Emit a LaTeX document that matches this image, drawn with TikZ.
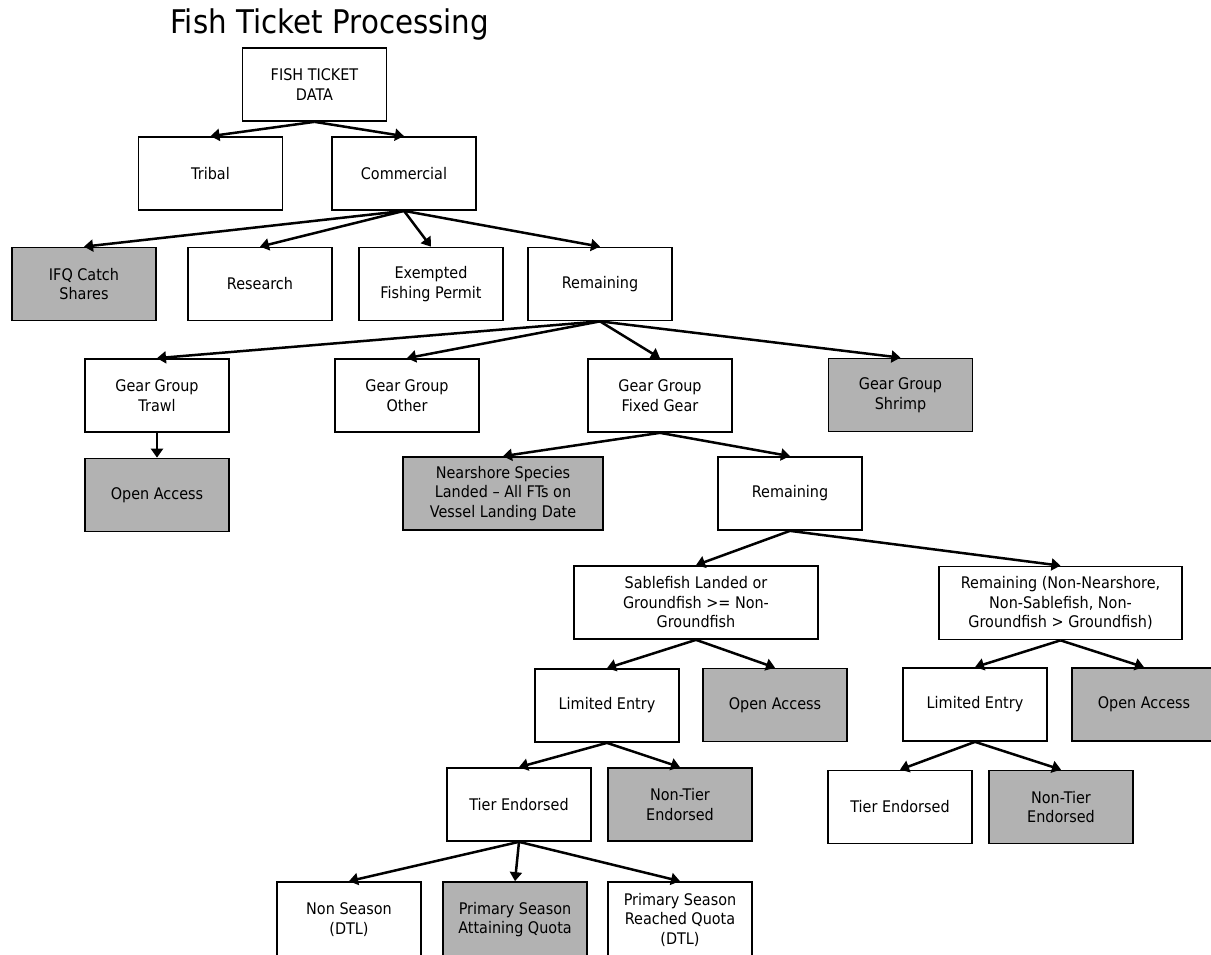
\documentclass[tikz,border=0pt]{standalone}
\usepackage{fontspec}
\setmainfont{DejaVu Sans}[FakeStretch=0.9]
\usetikzlibrary{arrows.meta}
\definecolor{boxgray}{RGB}{178,178,178}
\begin{document}
\begin{tikzpicture}[x=1pt,y=-1pt,
  box/.style={draw=black, line width=1.7pt, fill=white, minimum width=144pt, minimum height=73pt,
    align=center, inner sep=0pt, font=\fontsize{16}{19.5}\selectfont},
  shaded/.style={box, fill=boxgray},
  lastrow/.style={minimum height=75pt},
  conn/.style={line width=2.5pt, -{Triangle[length=9pt,width=12pt]}},
  titlestyle/.style={anchor=base west, inner sep=0pt, font=\fontsize{32.6}{38}\selectfont}
]
\useasboundingbox[fill=white] (0,0) rectangle (1211,954);
\node[titlestyle] (title) at (170,33) {Fish Ticket Processing};

\node[box] (ftd) at (314.5,84.5) {FISH TICKET\\DATA};
\node[box] (tribal) at (210.5,173.5) {Tribal};
\node[box] (commercial) at (404,173.5) {Commercial};
\node[shaded] (ifq) at (84,284) {IFQ Catch\\Shares};
\node[box] (research) at (260,284) {Research};
\node[box] (efp) at (431,284) {Exempted\\Fishing Permit};
\node[box] (rem1) at (600,284) {Remaining};
\node[box] (trawl) at (157,395.5) {Gear Group\\Trawl};
\node[box] (other) at (407,395.5) {Gear Group\\Other};
\node[box] (fixed) at (660,395.5) {Gear Group\\Fixed Gear};
\node[shaded] (shrimp) at (900.5,395) {Gear Group\\Shrimp};
\node[shaded] (oa1) at (157,495) {Open Access};
\node[shaded, minimum width=200pt] (near) at (503,493.5) {Nearshore Species\\Landed -- All FTs on\\Vessel Landing Date};
\node[box] (rem2) at (790,493.5) {Remaining};
\node[box, minimum width=244pt] (sable) at (696,602.5) {Sablefish Landed or\\Groundfish >= Non-\\Groundfish};
\node[box, minimum width=243pt] (rem3) at (1060.5,603) {Remaining (Non-Nearshore,\\Non-Sablefish, Non-\\Groundfish > Groundfish)};
\node[box] (le1) at (607,705.5) {Limited Entry};
\node[shaded] (oa2) at (775,705) {Open Access};
\node[box] (le2) at (975,704.5) {Limited Entry};
\node[shaded] (oa3) at (1144,704.5) {Open Access};
\node[box] (tier1) at (519,804.5) {Tier Endorsed};
\node[shaded] (ntier1) at (680,804.5) {Non-Tier\\Endorsed};
\node[box] (tier2) at (900,807) {Tier Endorsed};
\node[shaded] (ntier2) at (1061,807) {Non-Tier\\Endorsed};
\node[box, lastrow] (ns) at (349,919.5) {Non Season\\(DTL)};
\node[shaded, lastrow] (psaq) at (515,919.5) {Primary Season\\Attaining Quota};
\node[box, lastrow] (psrq) at (680,919.5) {Primary Season\\Reached Quota\\(DTL)};

\draw[conn] (ftd.south) -- (tribal.north);
\draw[conn] (ftd.south) -- (commercial.north);
\draw[conn] (commercial.south) -- (ifq.north);
\draw[conn] (commercial.south) -- (research.north);
\draw[conn] (commercial.south) -- (efp.north);
\draw[conn] (commercial.south) -- (rem1.north);
\draw[conn] (rem1.south) -- (trawl.north);
\draw[conn] (rem1.south) -- (other.north);
\draw[conn] (rem1.south) -- (fixed.north);
\draw[conn] (rem1.south) -- (shrimp.north);
\draw[conn] (trawl.south) -- (oa1.north);
\draw[conn] (fixed.south) -- (near.north);
\draw[conn] (fixed.south) -- (rem2.north);
\draw[conn] (rem2.south) -- (sable.north);
\draw[conn] (rem2.south) -- (rem3.north);
\draw[conn] (sable.south) -- (le1.north);
\draw[conn] (sable.south) -- (oa2.north);
\draw[conn] (rem3.south) -- (le2.north);
\draw[conn] (rem3.south) -- (oa3.north);
\draw[conn] (le1.south) -- (tier1.north);
\draw[conn] (le1.south) -- (ntier1.north);
\draw[conn] (le2.south) -- (tier2.north);
\draw[conn] (le2.south) -- (ntier2.north);
\draw[conn] (tier1.south) -- (ns.north);
\draw[conn] (tier1.south) -- (psaq.north);
\draw[conn] (tier1.south) -- (psrq.north);
\end{tikzpicture}
\end{document}
